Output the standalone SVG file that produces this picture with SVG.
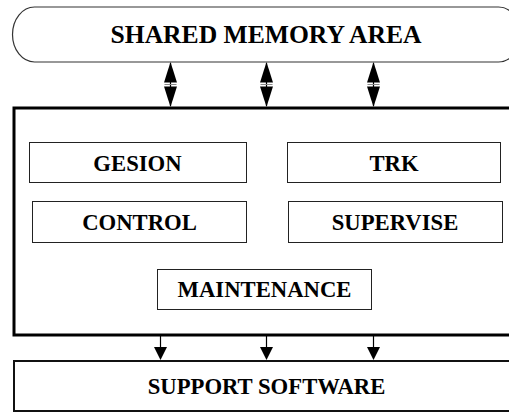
<svg xmlns="http://www.w3.org/2000/svg" width="509" height="412" viewBox="0 0 509 412">
<style>
  .lbl{font-family:"Liberation Serif","Times New Roman",serif;font-weight:bold;font-size:22.7px;fill:#000;text-anchor:middle}
  .box{fill:#fff;stroke:#222;stroke-width:1}
  .ln{stroke:#000;stroke-width:1.2;fill:none}
  .hd{fill:#000;stroke:none}
</style>
<rect width="509" height="412" fill="#fff"/>
<g id="shared-memory">
  <rect x="12.5" y="7" width="508" height="55" rx="22" ry="27.5" fill="#fff" stroke="#333" stroke-width="1.2"/>
  <text class="lbl" x="266" y="42.5" style="font-size:25.6px">SHARED MEMORY AREA</text>
</g>
<g id="main-block">
  <rect x="14" y="108" width="510" height="227" fill="none" stroke="#000" stroke-width="3"/>
</g>
<g id="gesion">
  <rect class="box" x="29.5" y="142.5" width="217" height="40"/>
  <text class="lbl" x="137.5" y="170.5">GESION</text>
</g>
<g id="trk">
  <rect class="box" x="287.5" y="142.5" width="213" height="40"/>
  <text class="lbl" x="394" y="170.5">TRK</text>
</g>
<g id="control">
  <rect class="box" x="32.5" y="201.5" width="214" height="41"/>
  <text class="lbl" x="139.5" y="229.5">CONTROL</text>
</g>
<g id="supervise">
  <rect class="box" x="288.5" y="201.5" width="214" height="41"/>
  <text class="lbl" x="395" y="229.5">SUPERVISE</text>
</g>
<g id="maintenance">
  <rect class="box" x="157.5" y="269.5" width="214" height="40"/>
  <text class="lbl" x="264.5" y="297">MAINTENANCE</text>
</g>
<g id="support-software">
  <rect x="14" y="361" width="510" height="50" fill="#fff" stroke="#111" stroke-width="2"/>
  <text class="lbl" x="266.5" y="393.5">SUPPORT SOFTWARE</text>
</g>
<g id="connectors">
  <g>
    <line class="ln" x1="170.5" y1="63" x2="170.5" y2="106"/>
    <polygon class="hd" points="170.5,62 164,82.5 177,82.5"/>
    <polygon class="hd" points="170.5,107 164,86.5 177,86.5"/>
    <line x1="164.5" y1="84.5" x2="176.5" y2="84.5" stroke="#888" stroke-width="1"/>
  </g>
  <g>
    <line class="ln" x1="266.5" y1="63" x2="266.5" y2="106"/>
    <polygon class="hd" points="266.5,62 260,82.5 273,82.5"/>
    <polygon class="hd" points="266.5,107 260,86.5 273,86.5"/>
    <line x1="260.5" y1="84.5" x2="272.5" y2="84.5" stroke="#888" stroke-width="1"/>
  </g>
  <g>
    <line class="ln" x1="373.5" y1="63" x2="373.5" y2="106"/>
    <polygon class="hd" points="373.5,62 367,82.5 380,82.5"/>
    <polygon class="hd" points="373.5,107 367,86.5 380,86.5"/>
    <line x1="367.5" y1="84.5" x2="379.5" y2="84.5" stroke="#888" stroke-width="1"/>
  </g>
  <g>
    <line class="ln" x1="160.5" y1="336" x2="160.5" y2="348"/>
    <polygon class="hd" points="154,347 167,347 160.5,360"/>
  </g>
  <g>
    <line class="ln" x1="266.5" y1="336" x2="266.5" y2="348"/>
    <polygon class="hd" points="260,347 273,347 266.5,360"/>
  </g>
  <g>
    <line class="ln" x1="373.5" y1="336" x2="373.5" y2="348"/>
    <polygon class="hd" points="367,347 380,347 373.5,360"/>
  </g>
</g>
</svg>
